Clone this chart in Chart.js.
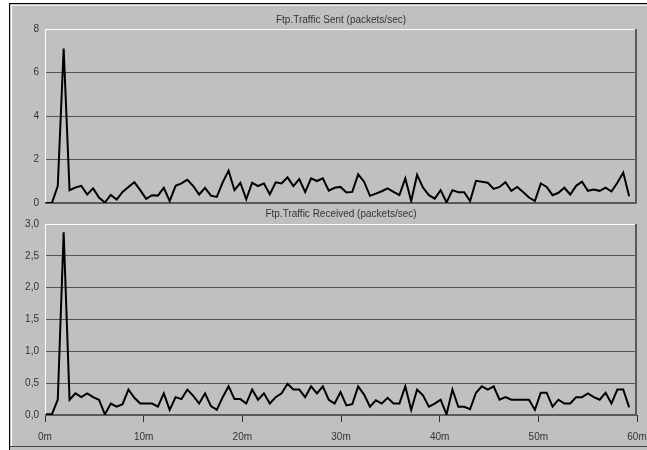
<!DOCTYPE html>
<html>
<head>
<meta charset="utf-8">
<script src="https://cdn.jsdelivr.net/npm/chart.js@4/dist/chart.umd.min.js"></script>
<style>
  html, body { margin:0; padding:0; background:#fff; width:647px; height:450px; overflow:hidden; }
  #frame { position:absolute; left:9px; top:3px; width:638px; height:447px; background:#c0c0c0;
           border-top:1px solid #000; border-left:1px solid #000; box-sizing:border-box; }
  #hl { position:absolute; left:1px; top:1px; right:0; bottom:4px; border-top:1px solid #eee; border-left:1px solid #fff; }
  #bl { position:absolute; left:0; right:0; top:442px; height:1px; background:#444; }
  canvas { position:absolute; left:0; }
  #c1 { top:0; }
  #c2 { top:200px; }
</style>
</head>
<body>
<div id="frame"><div id="hl"></div><div id="bl"></div></div>
<canvas id="c1" width="647" height="210"></canvas>
<canvas id="c2" width="647" height="250"></canvas>
<script>
// ---- data ----
const firstSampleMin = 0.1;
const sampleStepMin = 0.597;
const xTickLabelsMin = [0, 10, 20, 30, 40, 50, 60];

const sentTitle = 'Ftp.Traffic Sent (packets/sec)';
const receivedTitle = 'Ftp.Traffic Received (packets/sec)';

const sentValues = [
  0.0, 0.0, 0.78, 7.1, 0.59, 0.71, 0.79, 0.39, 0.67, 0.25,
  0.02, 0.37, 0.16, 0.51, 0.74, 0.96, 0.59, 0.19, 0.36, 0.34,
  0.70, 0.09, 0.79, 0.90, 1.07, 0.78, 0.39, 0.70, 0.34, 0.28,
  0.95, 1.49, 0.59, 0.93, 0.17, 0.93, 0.78, 0.90, 0.40, 0.95,
  0.90, 1.18, 0.78, 1.10, 0.50, 1.13, 1.01, 1.13, 0.57, 0.70,
  0.74, 0.48, 0.51, 1.32, 0.98, 0.33, 0.43, 0.54, 0.67, 0.51,
  0.36, 1.13, 0.09, 1.29, 0.71, 0.36, 0.20, 0.59, 0.03, 0.59,
  0.50, 0.50, 0.09, 1.02, 0.98, 0.93, 0.65, 0.74, 0.96, 0.56,
  0.74, 0.51, 0.25, 0.09, 0.90, 0.74, 0.36, 0.47, 0.70, 0.39,
  0.79, 0.98, 0.56, 0.62, 0.56, 0.71, 0.53, 0.93, 1.40, 0.31
];

const receivedValues = [
  0.01, 0.01, 0.24, 2.87, 0.24, 0.34, 0.28, 0.34, 0.28, 0.24,
  0.01, 0.18, 0.13, 0.17, 0.40, 0.27, 0.18, 0.18, 0.18, 0.13,
  0.34, 0.08, 0.28, 0.25, 0.40, 0.30, 0.18, 0.34, 0.14, 0.08,
  0.28, 0.45, 0.25, 0.25, 0.18, 0.40, 0.24, 0.34, 0.18, 0.28,
  0.34, 0.49, 0.40, 0.40, 0.28, 0.45, 0.34, 0.45, 0.24, 0.18,
  0.36, 0.15, 0.17, 0.45, 0.32, 0.13, 0.23, 0.18, 0.27, 0.18,
  0.18, 0.45, 0.08, 0.40, 0.31, 0.13, 0.18, 0.24, 0.01, 0.40,
  0.13, 0.13, 0.09, 0.35, 0.45, 0.40, 0.45, 0.24, 0.28, 0.24,
  0.24, 0.24, 0.24, 0.08, 0.35, 0.35, 0.13, 0.24, 0.18, 0.18,
  0.28, 0.28, 0.34, 0.28, 0.24, 0.35, 0.18, 0.40, 0.40, 0.12
];

// ---- build ----
const FONT = '"Liberation Sans", Arial, Helvetica, sans-serif';
const TEXT = '#333';

function toPoints(values) {
  return values.map((v, i) => ({ x: firstSampleMin + i * sampleStepMin, y: v }));
}

const bevelPlugin = {
  id: 'bevel',
  beforeDatasetsDraw(chart, args, opts) {
    const { ctx, chartArea: a } = chart;
    ctx.save();
    ctx.fillStyle = '#ffffff';
    ctx.fillRect(a.left, a.top, a.right - a.left, 1);
    ctx.fillRect(a.left, a.top, 1, a.bottom - a.top);
    ctx.fillStyle = '#5a5a5a';
    ctx.fillRect(a.right - 2, a.top, 2, a.bottom - a.top + 1);
    ctx.fillRect(a.left, a.bottom - 1, a.right - a.left, 2);
    ctx.restore();
  },
  afterDraw(chart, args, opts) {
    const { ctx, chartArea: a } = chart;
    ctx.save();
    ctx.font = '10px ' + FONT;
    ctx.fillStyle = TEXT;
    ctx.textAlign = 'center';
    ctx.textBaseline = 'middle';
    ctx.fillText(opts.text, (a.left + a.right) / 2, a.top + opts.offset);
    ctx.restore();
  }
};

function makeChart(id, values, yMax, yStep, title, titleOffset, showX, padding, fmt) {
  return new Chart(document.getElementById(id), {
    type: 'line',
    data: {
      datasets: [{
        data: toPoints(values),
        borderColor: '#000',
        borderWidth: 2,
        pointRadius: 0,
        tension: 0,
        fill: false
      }]
    },
    plugins: [bevelPlugin],
    options: {
      responsive: false,
      animation: false,
      devicePixelRatio: 1,
      layout: { padding: padding },
      plugins: {
        legend: { display: false },
        tooltip: { enabled: false },
        title: { display: false },
        bevel: { text: title, offset: titleOffset }
      },
      scales: {
        x: {
          type: 'linear',
          min: 0, max: 60,
          display: showX,
          afterFit(scale) {
            if (showX) { scale.height = 35; }
            scale.paddingLeft = 0; scale.paddingRight = 0;
          },
          afterBuildTicks(scale) { scale.ticks = xTickLabelsMin.map(v => ({ value: v })); },
          border: { display: false },
          grid: { drawOnChartArea: false, drawTicks: true, tickLength: 7, tickColor: '#333', tickWidth: 1 },
          ticks: {
            color: TEXT, font: { family: FONT, size: 10 }, padding: 9,
            maxRotation: 0, autoSkip: false,
            callback: v => v + 'm'
          }
        },
        y: {
          min: 0, max: yMax,
          afterFit(scale) { scale.width = 45; scale.paddingTop = 0; scale.paddingBottom = 0; },
          border: { display: false },
          grid: {
            drawTicks: false,
            color: c => (c.tick && (c.tick.value === 0 || c.tick.value === yMax)) ? 'rgba(0,0,0,0)' : '#555',
            lineWidth: 1
          },
          ticks: {
            stepSize: yStep, color: TEXT, font: { family: FONT, size: 10 }, padding: 6,
            callback: fmt
          }
        }
      }
    }
  });
}

makeChart('c1', sentValues, 8, 2, sentTitle, -9, false,
  { top: 29, right: 10, bottom: 7, left: 0 }, v => String(v));
makeChart('c2', receivedValues, 3, 0.5, receivedTitle, -10, true,
  { top: 24, right: 10, bottom: 0, left: 0 }, v => v.toFixed(1).replace('.', ','));
</script>
</body>
</html>
